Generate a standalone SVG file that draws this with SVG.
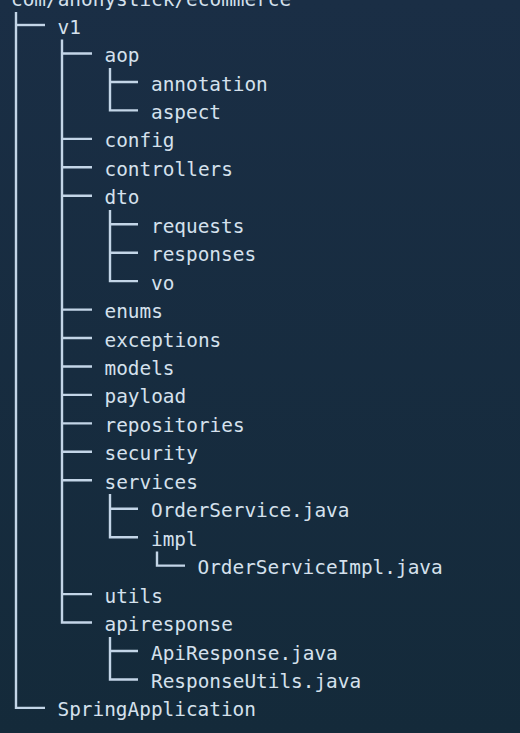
<svg xmlns="http://www.w3.org/2000/svg" width="520" height="733" viewBox="0 0 520 733">
<defs>
<linearGradient id="bg" x1="0" y1="0" x2="0" y2="1">
<stop offset="0" stop-color="#1a2e45"/>
<stop offset="1" stop-color="#142a3a"/>
</linearGradient>
<style>
text{font-family:"DejaVu Sans Mono","Liberation Mono",monospace;font-size:19.4px;fill:#d5e1ed}
.ln{stroke:#c3d5e7;stroke-width:2.4;fill:none}
</style>
</defs>
<rect width="520" height="733" fill="url(#bg)"/>
<g id="connectors" class="ln">
<path d="M16 12V707.9H45"/>
<path d="M16 25H45"/>
<path d="M62 39.5V622.5H92"/>
<path d="M62 53.5H92M62 138.9H92M62 167.3H92M62 195.8H92M62 309.6H92M62 338.0H92M62 366.5H92M62 394.9H92M62 423.4H92M62 451.8H92M62 480.3H92M62 594.1H92"/>
<path d="M110 68V110.4H138M110 82H138"/>
<path d="M110 210V281.1H138M110 224.2H138M110 252.7H138"/>
<path d="M110 494V537.2H138M110 508.7H138"/>
<path d="M110 637V679.5H138M110 651.0H138"/>
<path d="M157 551.5V565.6H185"/>
</g>
<g id="root"><text x="11" y="5.5">com/anonystick/ecommerce</text></g>
<g id="v1"><text x="57.5" y="33.5">v1</text></g>
<g id="aop"><text x="104.5" y="62">aop</text></g>
<g id="annotation"><text x="151" y="90.5">annotation</text></g>
<g id="aspect"><text x="151" y="118.9">aspect</text></g>
<g id="config"><text x="104.5" y="147.4">config</text></g>
<g id="controllers"><text x="104.5" y="175.8">controllers</text></g>
<g id="dto"><text x="104.5" y="204.3">dto</text></g>
<g id="requests"><text x="151" y="232.7">requests</text></g>
<g id="responses"><text x="151" y="261.2">responses</text></g>
<g id="vo"><text x="151" y="289.6">vo</text></g>
<g id="enums"><text x="104.5" y="318.1">enums</text></g>
<g id="exceptions"><text x="104.5" y="346.5">exceptions</text></g>
<g id="models"><text x="104.5" y="375.0">models</text></g>
<g id="payload"><text x="104.5" y="403.4">payload</text></g>
<g id="repositories"><text x="104.5" y="431.9">repositories</text></g>
<g id="security"><text x="104.5" y="460.3">security</text></g>
<g id="services"><text x="104.5" y="488.8">services</text></g>
<g id="OrderService"><text x="151" y="517.2">OrderService.java</text></g>
<g id="impl"><text x="151" y="545.7">impl</text></g>
<g id="OrderServiceImpl"><text x="197.5" y="574.1">OrderServiceImpl.java</text></g>
<g id="utils"><text x="104.5" y="602.6">utils</text></g>
<g id="apiresponse"><text x="104.5" y="631.0">apiresponse</text></g>
<g id="ApiResponse"><text x="151" y="659.5">ApiResponse.java</text></g>
<g id="ResponseUtils"><text x="151" y="687.9">ResponseUtils.java</text></g>
<g id="SpringApplication"><text x="57.5" y="716.4">SpringApplication</text></g>
</svg>
